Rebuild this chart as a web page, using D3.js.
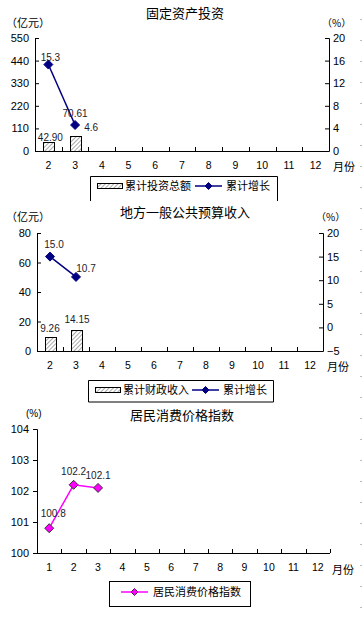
<!DOCTYPE html>
<html>
<head>
<meta charset="utf-8">
<script src="https://cdn.jsdelivr.net/npm/d3@7"></script>
<style>
  body { margin: 0; background: #fff; }
  svg { display: block; }
  text { font-family: "Liberation Sans", Arial, sans-serif; fill: #000; }
  .cjk { font-family: "Noto Sans CJK SC", sans-serif; }
  .lbl { fill: #1a1a2a; font-size: 10px; }
</style>
</head>
<body>
<div id="root"></div>
<script>
// ---- data ----
const investMonths = ['2', '3', '4', '5', '6', '7', '8', '9', '10', '11', '12']
const investTotal = [42.90, 70.61]
const investGrowth = [15.3, 4.6]
const investLeftTicks = [0, 110, 220, 330, 440, 550]
const investRightTicks = [0, 4, 8, 12, 16, 20]

const revenueMonths = ['2', '3', '4', '5', '6', '7', '8', '9', '10', '11', '12']
const revenueTotal = [9.26, 14.15]
const revenueGrowth = [15.0, 10.7]
const revenueLeftTicks = [0, 20, 40, 60, 80]
const revenueRightTicks = [-5, 0, 5, 10, 15, 20]

const cpiMonths = ['1', '2', '3', '4', '5', '6', '7', '8', '9', '10', '11', '12']
const cpiValues = [100.8, 102.2, 102.1]
const cpiTicks = [100, 101, 102, 103, 104]

const svg = d3.select('#root').append('svg')
  .attr('width', 362)
  .attr('height', 617)

const defs = svg.append('defs')
const pat = defs.append('pattern')
  .attr('id', 'hatch')
  .attr('patternUnits', 'userSpaceOnUse')
  .attr('width', 3)
  .attr('height', 3)
  .attr('patternTransform', 'rotate(45)')
pat.append('rect').attr('width', 3).attr('height', 3).attr('fill', '#fff')
pat.append('line')
  .attr('x1', 0).attr('y1', 0).attr('x2', 0).attr('y2', 3)
  .attr('stroke', '#555').attr('stroke-width', 1)

function diamond(g, x, y, r, fill, stroke) {
  g.append('path')
    .attr('d', `M${x},${y - r}L${x + r},${y}L${x},${y + r}L${x - r},${y}Z`)
    .attr('fill', fill)
    .attr('stroke', stroke)
    .attr('stroke-width', 1)
}

// bar + line chart with two y axes
function comboChart(o) {
  const g = svg.append('g')
  const x = d3.scaleBand().domain(o.months).range([o.left, o.right])
  const y0 = d3.scaleLinear().domain(d3.extent(o.leftTicks)).range([o.bottom, o.top])
  const y1 = d3.scaleLinear().domain(d3.extent(o.rightTicks)).range([o.bottom, o.top])

  g.append('text').attr('class', 'cjk')
    .attr('x', 185).attr('y', o.titleY)
    .attr('text-anchor', 'middle').attr('font-size', 13)
    .text(o.title)
  g.append('text').attr('class', 'cjk')
    .attr('x', 6).attr('y', o.unitY).attr('font-size', 11)
    .text('（亿元）')
  g.append('text').attr('class', 'cjk')
    .attr('x', o.right - 7).attr('y', o.unitY).attr('font-size', 10)
    .text('（%）')

  // axes
  const la = g.append('g').attr('transform', `translate(${o.left},0)`)
    .call(d3.axisLeft(y0).tickValues(o.leftTicks).tickSize(-4).tickPadding(6))
  const ra = g.append('g').attr('transform', `translate(${o.right},0)`)
    .call(d3.axisRight(y1).tickValues(o.rightTicks).tickSize(-4).tickPadding(4))
  ;[la, ra].forEach(a => {
    a.select('.domain').attr('stroke', '#000')
    a.selectAll('line').attr('stroke', '#000')
    a.selectAll('text').attr('font-size', 11)
  })
  g.append('line')
    .attr('x1', o.left).attr('x2', o.right)
    .attr('y1', o.bottom + 0.5).attr('y2', o.bottom + 0.5)
    .attr('stroke', '#000')
  g.selectAll('.xt').data(o.months.slice(1)).join('line')
    .attr('x1', d => Math.round(x(d)) + 0.5).attr('x2', d => Math.round(x(d)) + 0.5)
    .attr('y1', o.bottom - 4).attr('y2', o.bottom)
    .attr('stroke', '#000')
  g.selectAll('.xl').data(o.months).join('text')
    .attr('x', d => x(d) + x.bandwidth() / 2)
    .attr('y', o.bottom + 18)
    .attr('text-anchor', 'middle').attr('font-size', 10.5)
    .text(d => d)
  g.append('text').attr('class', 'cjk')
    .attr('x', o.right + 4).attr('y', o.bottom + 20).attr('font-size', 11)
    .text('月份')

  // bars
  const bw = 11
  const bars = o.totals.map((v, i) => ({ m: o.months[i], v }))
  g.selectAll('.bar').data(bars).join('rect')
    .attr('x', d => Math.round(x(d.m) + x.bandwidth() / 2 - bw / 2) + 0.5)
    .attr('y', d => Math.round(y0(d.v)) + 0.5)
    .attr('width', bw)
    .attr('height', d => o.bottom - Math.round(y0(d.v)))
    .attr('fill', 'url(#hatch)')
    .attr('stroke', '#000')

  // growth line
  const pts = o.growth.map((v, i) => ({ m: o.months[i], v }))
  const line = d3.line()
    .x(d => x(d.m) + x.bandwidth() / 2)
    .y(d => y1(d.v))
  g.append('path').datum(pts)
    .attr('d', line)
    .attr('fill', 'none').attr('stroke', '#000080').attr('stroke-width', 1.5)
  pts.forEach(d => diamond(g, x(d.m) + x.bandwidth() / 2, y1(d.v), 4.5, '#000080', '#000080'))

  // data labels
  bars.forEach((d, i) => {
    g.append('text').attr('class', 'lbl')
      .attr('x', x(d.m) + x.bandwidth() / 2 + o.barLbl[i][0])
      .attr('y', y0(d.v) + o.barLbl[i][1])
      .attr('text-anchor', 'middle')
      .text(d.v.toFixed(2))
  })
  pts.forEach((d, i) => {
    g.append('text').attr('class', 'lbl')
      .attr('x', x(d.m) + x.bandwidth() / 2 + o.ptLbl[i][0])
      .attr('y', y1(d.v) + o.ptLbl[i][1])
      .attr('text-anchor', 'middle')
      .text(d.v.toFixed(1))
  })

  // legend
  const L = o.legend
  g.append('path')
    .attr('d', `M${L.x + 0.5},${L.y2}V${L.y + 0.5}H${L.x2 + 0.5}V${L.y2}` + (L.closed ? `H${L.x + 0.5}` : ''))
    .attr('fill', 'none').attr('stroke', '#000')
  const cy = L.y + 10
  g.append('rect')
    .attr('x', L.x + 7.5).attr('y', cy - 2.5).attr('width', 25).attr('height', 5)
    .attr('fill', 'url(#hatch)').attr('stroke', '#000')
  g.append('text').attr('class', 'cjk')
    .attr('x', L.x + 35).attr('y', cy + 4).attr('font-size', 11)
    .text(o.barName)
  g.append('line')
    .attr('x1', L.lineX).attr('x2', L.lineX + 27)
    .attr('y1', cy).attr('y2', cy)
    .attr('stroke', '#000080').attr('stroke-width', 1.5)
  diamond(g, L.lineX + 13.5, cy, 3.5, '#000080', '#000080')
  g.append('text').attr('class', 'cjk')
    .attr('x', L.lineX + 31).attr('y', cy + 4).attr('font-size', 11)
    .text('累计增长')
}

comboChart({
  title: '固定资产投资', titleY: 18, unitY: 27,
  months: investMonths, totals: investTotal, growth: investGrowth,
  leftTicks: investLeftTicks, rightTicks: investRightTicks,
  left: 35, right: 329, top: 38, bottom: 151,
  barLbl: [[2, -1], [0, -19]],
  ptLbl: [[2, -4], [16, 6]],
  barName: '累计投资总额',
  legend: { x: 90, x2: 277, y: 176, y2: 201, lineX: 195, closed: false }
})

comboChart({
  title: '地方一般公共预算收入', titleY: 217, unitY: 221,
  months: revenueMonths, totals: revenueTotal, growth: revenueGrowth,
  leftTicks: revenueLeftTicks, rightTicks: revenueRightTicks,
  left: 37, right: 323, top: 233, bottom: 351,
  barLbl: [[0, -5], [1, -7]],
  ptLbl: [[4, -9], [10, -5]],
  barName: '累计财政收入',
  legend: { x: 88, x2: 273, y: 380, y2: 402, lineX: 192, closed: true }
})

// ---- CPI line chart ----
{
  const g = svg.append('g')
  const left = 37, right = 330, top = 429, bottom = 553
  const x = d3.scaleBand().domain(cpiMonths).range([left, right])
  const y = d3.scaleLinear().domain(d3.extent(cpiTicks)).range([bottom, top])

  g.append('text').attr('class', 'cjk')
    .attr('x', 182).attr('y', 420)
    .attr('text-anchor', 'middle').attr('font-size', 13)
    .text('居民消费价格指数')
  g.append('text')
    .attr('x', 26).attr('y', 417).attr('font-size', 10)
    .text('(%)')

  const ya = g.append('g').attr('transform', `translate(${left},0)`)
    .call(d3.axisLeft(y).tickValues(cpiTicks).tickFormat(d3.format('d')).tickSize(4).tickPadding(4))
  ya.select('.domain').attr('stroke', '#000')
  ya.selectAll('line').attr('stroke', '#000')
  ya.selectAll('text').attr('font-size', 11)

  g.append('line')
    .attr('x1', left).attr('x2', right)
    .attr('y1', bottom + 0.5).attr('y2', bottom + 0.5)
    .attr('stroke', '#000')
  g.selectAll('.xt').data(cpiMonths.slice(1).concat(['end'])).join('line')
    .attr('x1', d => Math.round(d === 'end' ? right : x(d)) + 0.5)
    .attr('x2', d => Math.round(d === 'end' ? right : x(d)) + 0.5)
    .attr('y1', bottom - 4).attr('y2', bottom)
    .attr('stroke', '#000')
  g.selectAll('.xl').data(cpiMonths).join('text')
    .attr('x', d => x(d) + x.bandwidth() / 2)
    .attr('y', bottom + 18)
    .attr('text-anchor', 'middle').attr('font-size', 10.5)
    .text(d => d)
  g.append('text').attr('class', 'cjk')
    .attr('x', 332).attr('y', bottom + 21).attr('font-size', 11)
    .text('月份')

  const pts = cpiValues.map((v, i) => ({ m: cpiMonths[i], v }))
  const line = d3.line()
    .x(d => x(d.m) + x.bandwidth() / 2)
    .y(d => y(d.v))
  g.append('path').datum(pts)
    .attr('d', line)
    .attr('fill', 'none').attr('stroke', '#ff00ff').attr('stroke-width', 1.5)
  pts.forEach(d => diamond(g, x(d.m) + x.bandwidth() / 2, y(d.v), 4.5, '#ff00ff', '#333'))

  const lblOff = [[4, -11], [0, -10], [0, -9]]
  pts.forEach((d, i) => {
    g.append('text').attr('class', 'lbl')
      .attr('x', x(d.m) + x.bandwidth() / 2 + lblOff[i][0])
      .attr('y', y(d.v) + lblOff[i][1])
      .attr('text-anchor', 'middle')
      .text(d.v.toFixed(1))
  })

  // legend
  g.append('rect')
    .attr('x', 109.5).attr('y', 581.5).attr('width', 141).attr('height', 25)
    .attr('fill', 'none').attr('stroke', '#000')
  g.append('line')
    .attr('x1', 121).attr('x2', 148).attr('y1', 592).attr('y2', 592)
    .attr('stroke', '#ff00ff').attr('stroke-width', 1.5)
  diamond(g, 134.5, 592, 3.5, '#ff00ff', '#333')
  g.append('text').attr('class', 'cjk')
    .attr('x', 153).attr('y', 596).attr('font-size', 11)
    .text('居民消费价格指数')
}

// faint dots along right page edge
svg.selectAll('.edge').data(d3.range(19, 617, 21)).join('rect')
  .attr('x', 360).attr('y', d => d).attr('width', 2).attr('height', 1)
  .attr('fill', '#bbb')
</script>
</body>
</html>
